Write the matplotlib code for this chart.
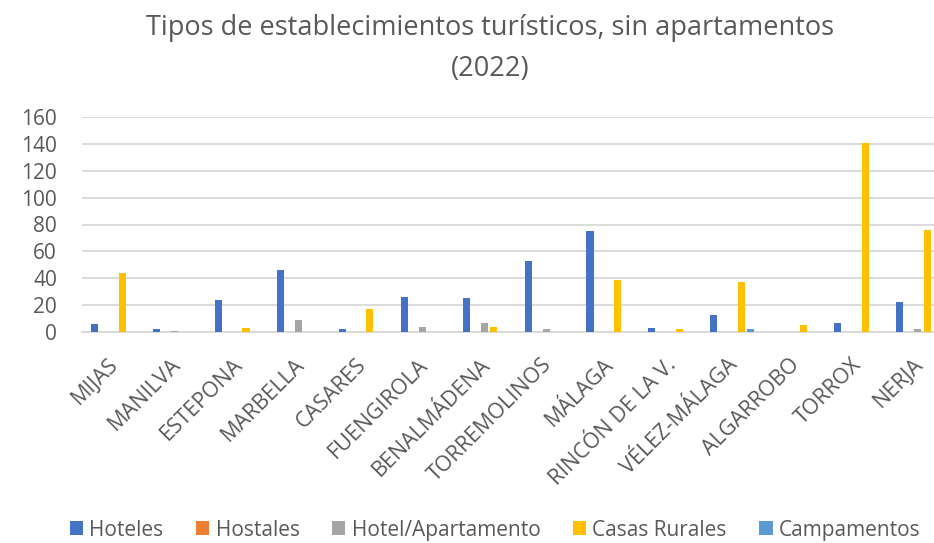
import matplotlib
matplotlib.use("Agg")
import matplotlib.pyplot as plt
import matplotlib.transforms as mtransforms
import numpy as np

plt.rcParams['font.family'] = ['Open Sans', 'DejaVu Sans']

categories = ["MIJAS", "MANILVA", "ESTEPONA", "MARBELLA", "CASARES", "FUENGIROLA",
              "BENALMÁDENA", "TORREMOLINOS", "MÁLAGA", "RINCÓN DE LA V.",
              "VÉLEZ-MÁLAGA", "ALGARROBO", "TORROX", "NERJA"]
hoteles = [6, 2, 24, 46, 2, 26, 25, 53, 75, 3, 13, 0, 7, 22]
hostales = [0, 0, 0, 0, 0, 0, 0, 0, 0, 0, 0, 0, 0, 0]
hotel_apart = [0, 1, 0, 9, 0, 4, 7, 2, 0, 0, 0, 0, 0, 2]
casas_rurales = [44, 0, 3, 0, 17, 0, 4, 0, 39, 2, 37, 5, 141, 76]
campamentos = [0, 0, 0, 0, 0, 0, 0, 0, 0, 0, 2, 0, 0, 0]

series = [("Hoteles", hoteles, "#4472C4"),
          ("Hostales", hostales, "#ED7D31"),
          ("Hotel/Apartamento", hotel_apart, "#A5A5A5"),
          ("Casas Rurales", casas_rurales, "#FFC000"),
          ("Campamentos", campamentos, "#5B9BD5")]

fig = plt.figure(figsize=(9.34, 5.43), dpi=100)
ax = fig.add_axes([82/934, 1-332/543, (934-82)/934, (332-117)/543])

x = np.arange(len(categories))
slot = 0.148
bw = 0.115
for i, (name, vals, col) in enumerate(series):
    ax.bar(x + (i - 2) * slot, vals, width=bw, color=col, label=name, zorder=3)

ax.set_ylim(0, 160)
ax.set_xlim(-0.5, 13.26)
ax.set_yticks(range(0, 161, 20))
ax.yaxis.grid(True, color="#D9D9D9", linewidth=1.3, zorder=0)
ax.set_axisbelow(True)
for s in ["top", "right", "left"]:
    ax.spines[s].set_visible(False)
ax.spines["bottom"].set_color("#D9D9D9")
ax.spines["bottom"].set_linewidth(1.3)
ax.tick_params(axis="both", length=0, labelcolor="#595959")
ax.tick_params(axis="y", pad=18, labelsize=15)
ax.set_xticks(x)
ax.set_xticklabels(categories, rotation=45, ha="right", va="top",
                   rotation_mode="anchor", fontsize=15.5, color="#595959")
ax.tick_params(axis="x", pad=16)
offset = mtransforms.ScaledTranslation(-5/100, 0, fig.dpi_scale_trans)
for lbl in ax.get_xticklabels():
    lbl.set_transform(lbl.get_transform() + offset)

fig.text(0.525, 0.948, "Tipos de establecimientos turísticos, sin apartamentos",
         ha="center", va="center", fontsize=19.5, color="#595959")
fig.text(0.525, 0.873, "(2022)", ha="center", va="center", fontsize=19.5,
         color="#595959")

leg = fig.legend(loc="lower center", bbox_to_anchor=(0.53, -0.03), ncol=5, frameon=False,
                 prop={'size': 15}, handlelength=0.65, handleheight=0.65, handletextpad=0.3,
                 columnspacing=1.55, labelcolor="#595959")

fig.savefig("out.png", dpi=100)
